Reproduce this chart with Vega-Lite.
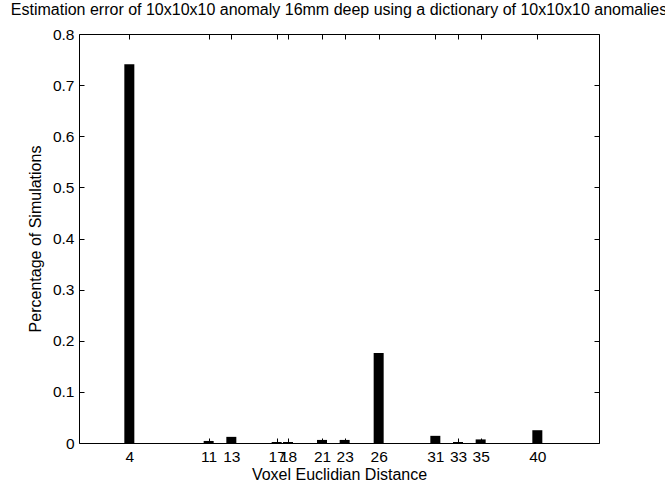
{
  "$schema": "https://vega.github.io/schema/vega-lite/v6.json",
  "width": 520,
  "height": 409,
  "autosize": "none",
  "padding": {"left": 79, "top": 34, "right": 66, "bottom": 41},
  "background": "white",
  "config": {
    "font": "Liberation Sans",
    "view": {"stroke": "black", "strokeWidth": 1},
    "axis": {
      "domain": false,
      "grid": false,
      "tickColor": "black",
      "tickWidth": 1,
      "tickSize": -5,
      "labelColor": "black",
      "labelFontSize": 15.5,
      "labelFont": "Liberation Sans",
      "titleColor": "black",
      "titleFontSize": 16,
      "titleFontWeight": "normal",
      "titleFont": "Liberation Sans"
    }
  },
  "title": {
    "text": "Estimation error of 10x10x10 anomaly 16mm deep using a dictionary of 10x10x10 anomalies",
    "fontSize": 16,
    "fontWeight": "normal",
    "font": "Liberation Sans",
    "color": "black",
    "anchor": "middle",
    "offset": 9
  },
  "data": {
    "values": [
      {"distance": 4, "pct": 0.741},
      {"distance": 11, "pct": 0.004},
      {"distance": 13, "pct": 0.012},
      {"distance": 17, "pct": 0.002},
      {"distance": 18, "pct": 0.002},
      {"distance": 21, "pct": 0.006},
      {"distance": 23, "pct": 0.006},
      {"distance": 26, "pct": 0.176},
      {"distance": 31, "pct": 0.014},
      {"distance": 33, "pct": 0.002},
      {"distance": 35, "pct": 0.007},
      {"distance": 40, "pct": 0.025}
    ]
  },
  "layer": [
    {
      "mark": {"type": "bar", "size": 10, "color": "black"},
      "encoding": {
        "x": {
          "field": "distance",
          "type": "quantitative",
          "scale": {"domain": [0, 45], "nice": false, "zero": false},
          "axis": {
            "values": [4, 11, 13, 17, 18, 21, 23, 26, 31, 33, 35, 40],
            "labelOverlap": false,
            "labelBound": false,
            "labelFlush": false,
            "labelPadding": 11,
            "title": "Voxel Euclidian Distance",
            "titlePadding": 2
          }
        },
        "y": {
          "field": "pct",
          "type": "quantitative",
          "scale": {"domain": [0, 0.8], "nice": false},
          "axis": {
            "values": [0, 0.1, 0.2, 0.3, 0.4, 0.5, 0.6, 0.7, 0.8],
            "format": "~g",
            "labelPadding": 10,
            "labelFlush": false,
            "labelBound": false,
            "title": "Percentage of Simulations",
            "titlePadding": 9
          }
        }
      }
    },
    {
      "mark": {"type": "point", "opacity": 0},
      "encoding": {
        "x": {
          "field": "distance",
          "type": "quantitative",
          "axis": {
            "values": [4, 11, 13, 17, 18, 21, 23, 26, 31, 33, 35, 40],
            "labels": false,
            "title": null
          }
        },
        "y": {
          "field": "pct",
          "type": "quantitative",
          "axis": {
            "values": [0, 0.1, 0.2, 0.3, 0.4, 0.5, 0.6, 0.7, 0.8],
            "labels": false,
            "title": null
          }
        }
      }
    }
  ],
  "resolve": {"axis": {"x": "independent", "y": "independent"}}
}
